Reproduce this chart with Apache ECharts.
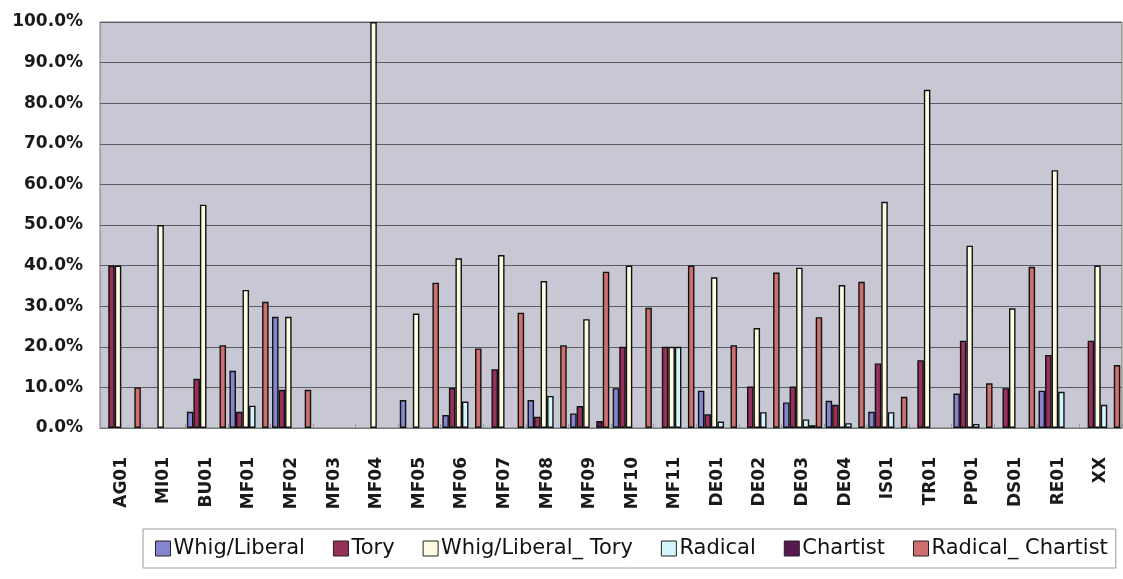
<!DOCTYPE html>
<html>
<head>
<meta charset="utf-8">
<script src="https://cdn.jsdelivr.net/npm/echarts@6/dist/echarts.min.js"></script>
<style>
html,body{margin:0;padding:0;background:#fff;}
#c{width:1123px;height:579px;}
</style>
</head>
<body>
<div id="c"></div>
<script>
const categories = ['AG01','MI01','BU01','MF01','MF02','MF03','MF04','MF05','MF06','MF07','MF08','MF09','MF10','MF11','DE01','DE02','DE03','DE04','IS01','TR01','PP01','DS01','RE01','XX'];
const whigLiberal     = [0, 0, 4.0, 14.1, 27.4, 0, 0, 6.9, 3.2, 0, 6.9, 3.6, 9.8, 0, 9.2, 0, 6.3, 6.7, 4.0, 0, 8.5, 0, 9.2, 0];
const tory            = [40, 0, 12.1, 4.0, 9.4, 0, 0, 0, 9.9, 14.5, 2.8, 5.4, 20, 20, 3.4, 10.2, 10.2, 5.7, 15.9, 16.7, 21.5, 9.8, 18.0, 21.5];
const whigLiberalTory = [40, 50, 55, 34, 27.4, 0, 100, 28.2, 41.8, 42.6, 36.2, 26.8, 40, 20, 37.1, 24.6, 39.5, 35.2, 55.7, 83.3, 44.9, 29.5, 63.5, 40];
const radical         = [0, 0, 0, 5.5, 0, 0, 0, 0, 6.5, 0, 7.9, 0, 0, 20, 1.6, 3.9, 2.1, 1.2, 3.9, 0, 1.0, 0, 8.9, 5.7];
const chartist        = [0, 0, 0, 0, 0, 0, 0, 0, 0, 0, 0, 1.7, 0, 0, 0, 0, 0.7, 0, 0, 0, 0, 0, 0, 0];
const radicalChartist = [10, 0, 20.4, 31.1, 9.4, 0, 0, 35.8, 19.6, 28.4, 20.4, 38.5, 29.6, 40, 20.4, 38.3, 27.3, 36.0, 7.7, 0, 11.0, 39.7, 0, 15.5];
const seriesNames = ['Whig/Liberal', 'Tory', 'Whig/Liberal_ Tory', 'Radical', 'Chartist', 'Radical_ Chartist'];
const yTicks = [0, 10, 20, 30, 40, 50, 60, 70, 80, 90, 100];

const seriesData = [whigLiberal, tory, whigLiberalTory, radical, chartist, radicalChartist];
const colors = ['#8585cf', '#99305a', '#fffbe2', '#d2f4fa', '#5a1850', '#cf6e6e'];

const chart = echarts.init(document.getElementById('c'), null, {renderer: 'canvas'});
chart.setOption({
  animation: false,
  backgroundColor: '#ffffff',
  grid: {
    left: 100, right: 1, top: 22, bottom: 151,
    show: true, backgroundColor: '#c8c8d4', borderColor: '#777', borderWidth: 1
  },
  legend: {
    left: 143, top: 529,
    padding: [9, 8, 9, 12],
    borderColor: '#9a9a9a', borderWidth: 1,
    itemWidth: 15, itemHeight: 15, itemGap: 28,
    icon: 'rect',
    textStyle: {fontFamily: 'DejaVu Sans', fontSize: 21, color: '#111', padding: [0, 0, 0, -2]},
    data: seriesNames.map((n) => ({name: n, itemStyle: {borderColor: '#222', borderWidth: 1}}))
  },
  xAxis: {
    type: 'category',
    data: categories,
    axisLine: {show: true, lineStyle: {color: '#777'}},
    axisTick: {show: true, inside: true, length: 4, lineStyle: {color: '#999'}},
    axisLabel: {
      rotate: 90, interval: 0, margin: 29,
      fontFamily: 'DejaVu Sans', fontWeight: 'bold', fontSize: 17, color: '#1a1a1a'
    }
  },
  yAxis: {
    type: 'value', min: yTicks[0], max: yTicks[yTicks.length - 1], interval: 10,
    axisLine: {show: false},
    axisTick: {show: false},
    splitLine: {show: true, lineStyle: {color: '#5c5c66', width: 1}},
    axisLabel: {
      margin: 17,
      fontFamily: 'DejaVu Sans', fontWeight: 'bold', fontSize: 17, color: '#1a1a1a',
      formatter: (v) => v.toFixed(1) + '%'
    }
  },
  series: seriesNames.map((name, i) => ({
    name: name,
    type: 'bar',
    barGap: '0%',
    barCategoryGap: '8%',
    itemStyle: {color: colors[i], borderColor: '#111', borderWidth: 1.4},
    data: seriesData[i].map((v) => (v === 0 ? '-' : v))
  }))
});
</script>
</body>
</html>
